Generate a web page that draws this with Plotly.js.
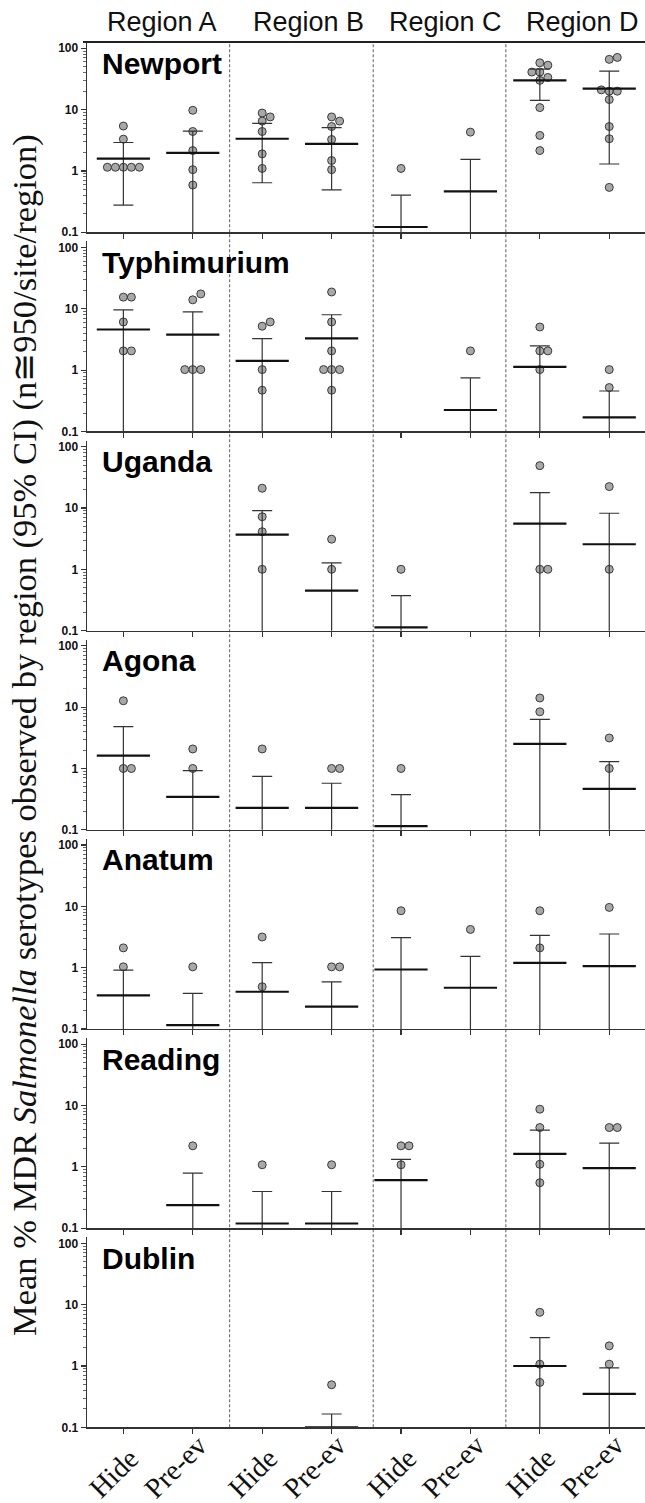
<!DOCTYPE html>
<html><head><meta charset="utf-8">
<script src="https://cdn.plot.ly/plotly-3.0.1.min.js"></script>
<style>html,body{margin:0;padding:0;background:#fff}</style>
</head><body><div id="chart" style="width:645px;height:1503px"></div>
<script>
// ---------------- data ----------------
const categories = ["Hide","Pre-ev","Hide","Pre-ev","Hide","Pre-ev","Hide","Pre-ev"];
const regions = ["Region A","Region B","Region C","Region D"];
const serotypes = ["Newport","Typhimurium","Uganda","Agona","Anatum","Reading","Dublin"];
const yTickVals = [0.1, 1, 10, 100];
const yTickText = ["0.1", "1", "10", "100"];

// per-site observations (one array per category column)
const newportPoints = [[5.4,3.3,1.15,1.15,1.15,1.15,1.15],[9.75,4.4,2.15,1.05,0.59],[8.8,7.6,6.5,4.4,1.9,1.1],[7.6,6.5,5.3,3.26,1.48,1.05],[1.1],[4.3],[58,53,41,41,33.5,30,10.8,3.8,2.15],[71,66,21,20,20,14.6,5.3,3.35,0.54]];
const newportMean  = [1.59,1.97,3.35,2.77,0.122,0.464,30,22];
const newportUpper = [2.91,4.46,5.96,5.1,0.405,1.55,45.8,42.5];
const newportLower = [0.277,0,0.643,0.49,0,0,14.2,1.3];

const typhimuriumPoints = [[15.5,15.5,6.1,2.06,2.06],[17.5,14,1.02,1.02,1.02],[6.1,5.2,1.02,0.47],[18.8,6.1,2.06,1.02,1.02,1.02,0.47],[],[2.06],[5.05,2.06,2.06,1.02],[1.02,0.52]];
const typhimuriumMean  = [4.6,3.78,1.42,3.3,null,0.224,1.13,0.17];
const typhimuriumUpper = [9.6,8.9,3.26,8.0,null,0.75,2.48,0.457];
const typhimuriumLower = [0,0,0,0,null,0,0,0];

const ugandaPoints = [[],[],[21,7.2,4.1,1.0],[3.1,1.0],[1.0],[],[49,1.0,1.0],[22.3,1.0]];
const ugandaMean  = [null,null,3.67,0.449,0.113,null,5.56,2.56];
const ugandaUpper = [null,null,9.05,1.27,0.372,null,17.8,8.2];
const ugandaLower = [null,null,0,0,0,null,0,0];

const agonaPoints = [[12.7,1.0,1.0],[2.08,1.0],[2.08],[1.0,1.0],[1.0],[],[14.1,8.4],[3.14,1.0]];
const agonaMean  = [1.62,0.344,0.228,0.228,0.115,null,2.51,0.464];
const agonaUpper = [4.8,0.92,0.746,0.574,0.375,null,6.3,1.29];
const agonaLower = [0,0,0,0,0,null,0,0];

const anatumPoints = [[2.1,1.03],[1.03],[3.16,0.488],[1.03,1.03],[8.47],[4.2],[8.47,2.1],[9.6]];
const anatumMean  = [0.352,0.116,0.405,0.231,0.933,0.47,1.2,1.06];
const anatumUpper = [0.91,0.38,1.21,0.587,3.08,1.53,3.37,3.54];
const anatumLower = [0,0,0,0,0,0,0,0];

const readingPoints = [[],[2.2],[1.08],[1.08],[2.2,2.2,1.08],[],[8.7,4.37,1.1,0.55],[4.37,4.37]];
const readingMean  = [null,0.237,0.119,0.119,0.607,null,1.63,0.95];
const readingUpper = [null,0.79,0.396,0.396,1.32,null,3.96,2.43];
const readingLower = [null,0,0,0,0,null,0,0];

const dublinPoints = [[],[],[],[0.494],[],[],[7.5,1.07,0.54],[2.13,1.07]];
const dublinMean  = [null,null,null,0.1,null,null,1.0,0.352];
const dublinUpper = [null,null,null,0.165,null,null,2.91,0.935];
const dublinLower = [null,null,null,0,null,null,0,0];

const panelPoints = [newportPoints,typhimuriumPoints,ugandaPoints,agonaPoints,anatumPoints,readingPoints,dublinPoints];
const panelMean   = [newportMean,typhimuriumMean,ugandaMean,agonaMean,anatumMean,readingMean,dublinMean];
const panelUpper  = [newportUpper,typhimuriumUpper,ugandaUpper,agonaUpper,anatumUpper,readingUpper,dublinUpper];
const panelLower  = [newportLower,typhimuriumLower,ugandaLower,agonaLower,anatumLower,readingLower,dublinLower];

// ---------------- layout geometry ----------------
const W = 645, H = 1503;
const plotLeftPx = 87;
const firstTopPx = 48.3, pitchPx = 199.17, panelPx = 184; // 100 -> 0.1 span
const yRange = [-1, 2.1];
const xRange = [-0.524, 7.515];
const decadePx = panelPx / 3;
const xUnitPx = (W - plotLeftPx) / (xRange[1] - xRange[0]);
const markerD = 8;
const py = px => 1 - px / H;
const pxX = pos => (plotLeftPx + (pos - xRange[0]) * xUnitPx) / W;

// simple beeswarm: offsets in category units so that markers don't overlap
function swarm(vals) {
  const order = vals.map((v, i) => i).sort((a, b) => vals[a] - vals[b]);
  const placed = [];
  const off = new Array(vals.length).fill(0);
  order.forEach(i => {
    const yp = Math.log10(vals[i]) * decadePx;
    for (let s = 0; s < 20; s++) {
      const k = s === 0 ? 0 : (s % 2 ? (s + 1) / 2 : -s / 2);
      const xp = k * markerD;
      const hit = placed.some(p => (p.x - xp) ** 2 + (p.y - yp) ** 2 < (markerD * 0.98) ** 2);
      if (!hit) { placed.push({x: xp, y: yp}); off[i] = xp / xUnitPx; break; }
    }
  });
  return off;
}

const traces = [];
const layout = {
  width: W, height: H,
  margin: {l: 0, r: 0, t: 0, b: 0},
  paper_bgcolor: '#fff', plot_bgcolor: 'rgba(0,0,0,0)',
  showlegend: false,
  shapes: [], annotations: []
};

serotypes.forEach((name, p) => {
  const sfx = p === 0 ? '' : String(p + 1);
  const top100 = firstTopPx + p * pitchPx;
  const bottom = top100 + panelPx;
  const domTop = top100 - (yRange[1] - 2) * decadePx;
  // points
  const xs = [], ys = [];
  panelPoints[p].forEach((col, c) => {
    const off = swarm(col);
    col.forEach((v, j) => { xs.push(c + off[j]); ys.push(v); });
  });
  traces.push({
    type: 'scatter', mode: 'markers', x: xs, y: ys,
    xaxis: 'x' + sfx, yaxis: 'y' + sfx, hoverinfo: 'skip',
    marker: {size: markerD, color: '#a8a8a8', line: {color: '#3a3a3a', width: 1}}
  });
  // mean with 95% CI
  const mx = [], my = [], eu = [], el = [];
  panelMean[p].forEach((m, c) => {
    if (m === null) return;
    mx.push(c); my.push(m);
    eu.push(panelUpper[p][c] - m);
    el.push(m - panelLower[p][c]);
  });
  traces.push({
    type: 'scatter', mode: 'markers', x: mx, y: my,
    xaxis: 'x' + sfx, yaxis: 'y' + sfx, hoverinfo: 'skip',
    marker: {symbol: 'line-ew', size: 38, color: '#111', line: {color: '#111', width: 2.2}},
    error_y: {type: 'data', symmetric: false, array: eu, arrayminus: el,
              color: '#333', thickness: 1.2, width: 10}
  });
  layout['xaxis' + sfx] = {
    domain: [plotLeftPx / W, 1], range: xRange, anchor: 'y' + sfx,
    tickmode: 'array', tickvals: categories.map((c, i) => i), ticktext: categories,
    showticklabels: false,
    ticks: 'outside', ticklen: 5, tickwidth: 1.2, tickcolor: '#333',
    showline: true, linecolor: '#333', linewidth: 1.4,
    showgrid: false, zeroline: false, fixedrange: true
  };
  layout['yaxis' + sfx] = {
    type: 'log', domain: [py(bottom), py(domTop)], range: yRange, anchor: 'x' + sfx,
    tickmode: 'array', tickvals: yTickVals, ticktext: yTickText,
    tickfont: {family: 'Liberation Sans', size: 12, color: '#111', weight: 'bold'},
    ticks: 'outside', ticklen: 5, tickwidth: 1.2, tickcolor: '#333',
    minor: {ticks: 'outside', ticklen: 3, tickwidth: 0.8, tickcolor: '#444', dtick: 'D1'},
    showline: true, linecolor: '#333', linewidth: 1.4,
    showgrid: false, zeroline: false, fixedrange: true
  };
  layout.annotations.push({
    xref: 'paper', yref: 'paper', x: 100 / W, y: py(top100 + 15),
    xanchor: 'left', yanchor: 'middle', showarrow: false,
    text: '<b>' + name + '</b>',
    font: {family: 'Liberation Sans', size: 30, color: '#000'}
  });
});

// rotated category labels under the bottom panel (start-aligned on one baseline)
const lastAxis = 'x' + serotypes.length;
categories.forEach((c, i) => {
  layout.annotations.push({
    xref: lastAxis, yref: 'paper', x: i, y: py(1505), xshift: 22,
    xanchor: 'right', yanchor: 'bottom', showarrow: false, textangle: -45,
    text: c, borderpad: 0,
    font: {family: 'Liberation Serif', size: 28.5, color: '#111'}
  });
});

// region separators (between category groups)
const lastBottom = firstTopPx + (serotypes.length - 1) * pitchPx + panelPx;
[1.53, 3.6, 5.51].forEach(pos => {
  layout.shapes.push({type: 'line', xref: 'paper', yref: 'paper', layer: 'below',
    x0: pxX(pos), x1: pxX(pos), y0: py(lastBottom), y1: py(42),
    line: {color: '#777', width: 1.2, dash: '3px,2px'}});
});
// top border
layout.shapes.push({type: 'line', xref: 'paper', yref: 'paper',
  x0: 83 / W, x1: 1, y0: py(42), y1: py(42), line: {color: '#222', width: 2}});

// region headers
const regionCenters = [161.5, 308.6, 445, 582.5];
regions.forEach((r, i) => {
  layout.annotations.push({xref: 'paper', yref: 'paper', x: regionCenters[i] / W, y: py(22),
    xanchor: 'center', yanchor: 'middle', showarrow: false, text: r,
    font: {family: 'Liberation Sans', size: 27, color: '#111'}});
});

// y axis title
layout.annotations.push({xref: 'paper', yref: 'paper', x: 24 / W, y: py(735),
  xanchor: 'center', yanchor: 'middle', showarrow: false, textangle: -90,
  text: 'Mean % MDR <i>Salmonella</i> serotypes observed by region (95% CI) (n≅950/site/region)',
  font: {family: 'Liberation Serif', size: 34.5, color: '#111'}});

Plotly.newPlot('chart', traces, layout, {staticPlot: true, displayModeBar: false});
</script>
</body></html>
